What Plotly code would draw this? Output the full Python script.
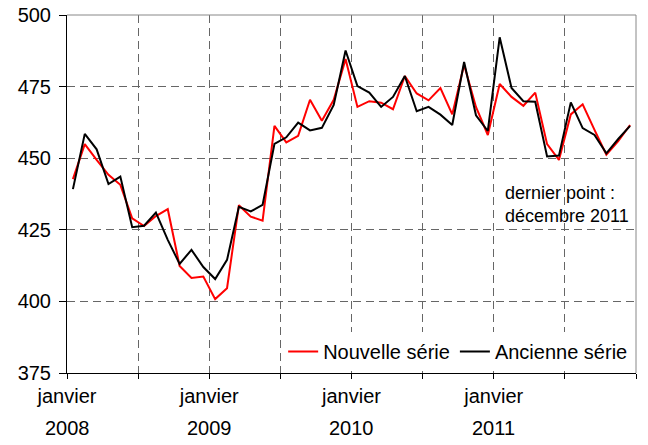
import plotly.graph_objects as go

months = list(range(48))
nouvelle = [442.7, 454.9, 449.4, 444.2, 440.7, 429.0, 426.3, 429.8,
            432.2, 412.4, 408.2, 408.7, 400.8, 404.6, 433.6, 429.6,
            428.2, 461.3, 455.5, 457.8, 470.4, 463.1, 470.4, 484.6,
            467.9, 469.9, 469.4, 467.1, 478.7, 472.6, 470.2, 474.5,
            465.3, 482.6, 467.9, 458.1, 475.9, 471.4, 468.3, 472.9,
            454.9, 449.4, 465.3, 468.8, 459.9, 451.2, 456.0, 461.6]
ancienne = [439.2, 458.5, 453.1, 441.0, 443.6, 425.9, 426.4, 431.0,
            421.5, 413.1, 418.0, 412.0, 407.8, 414.5, 433.0, 431.4,
            433.7, 455.0, 457.3, 462.4, 459.7, 460.6, 468.6, 487.6,
            475.2, 472.9, 467.9, 471.4, 478.7, 466.4, 467.9, 465.2,
            461.6, 483.6, 465.0, 459.5, 492.2, 474.5, 469.9, 469.7,
            450.6, 450.9, 469.5, 460.5, 458.1, 451.7, 456.7, 461.3]

tick_vals = [0, 6, 12, 18, 24, 30, 36, 42, 48]
tick_text = ["janvier", "", "janvier", "", "janvier", "", "janvier", "", ""]
year_vals = [0, 12, 24, 36]
year_text = ["2008", "2009", "2010", "2011"]
y_ticks = [375, 400, 425, 450, 475, 500]

x_pos = [m + 0.5 for m in months]
font_family = "Liberation Sans, Arial, sans-serif"

fig = go.Figure()
fig.add_trace(go.Scatter(x=x_pos, y=nouvelle, mode="lines", name="Nouvelle série",
                         line=dict(color="#ff0000", width=2)))
fig.add_trace(go.Scatter(x=x_pos, y=ancienne, mode="lines", name="Ancienne série",
                         line=dict(color="#000000", width=2)))

fig.update_layout(
    width=648, height=445,
    margin=dict(l=67, r=12, t=15, b=72, autoexpand=False),
    paper_bgcolor="white", plot_bgcolor="white",
    font=dict(family=font_family, size=20, color="black"),
    showlegend=True,
    legend=dict(orientation="h", x=0.995, xanchor="right", y=0.06, yanchor="middle",
                bgcolor="white", font=dict(size=20), itemwidth=30,
                tracegroupgap=0),
    xaxis=dict(range=[0, 48], tickmode="array", tickvals=tick_vals, ticktext=tick_text,
               showgrid=True, gridcolor="#666666", griddash="8px,5px", gridwidth=1,
               showline=True, linecolor="black", linewidth=1, automargin=False,
               ticks="outside", ticklen=5, tickcolor="black", zeroline=False,
               tickfont=dict(size=20)),
    yaxis=dict(range=[375, 500], tickmode="array", tickvals=y_ticks,
               showgrid=True, gridcolor="#666666", griddash="8px,5px", gridwidth=1,
               showline=True, linecolor="black", linewidth=1, automargin=False,
               ticks="outside", ticklen=7, tickcolor="black", zeroline=False,
               tickfont=dict(size=20), ticklabelstandoff=4),
)

fig.add_shape(type="line", xref="paper", yref="paper", x0=0, x1=1, y0=1, y1=1,
              line=dict(color="#888888", width=1))
fig.add_shape(type="line", xref="paper", yref="paper", x0=1, x1=1, y0=0, y1=1,
              line=dict(color="#888888", width=1))

for v, t in zip(year_vals, year_text):
    fig.add_annotation(x=v, y=0, xref="x", yref="paper", text=t, showarrow=False,
                       yanchor="top", yshift=-42, font=dict(size=20))

fig.add_annotation(x=0.767, y=0.47, xref="paper", yref="paper",
                   text="dernier point :<br>décembre 2011", showarrow=False,
                   xanchor="left", yanchor="middle", align="left",
                   font=dict(size=18))

fig.write_html("out.html", config={"displayModeBar": False},
               post_script="document.body.style.margin='0';document.body.style.padding='0';")
